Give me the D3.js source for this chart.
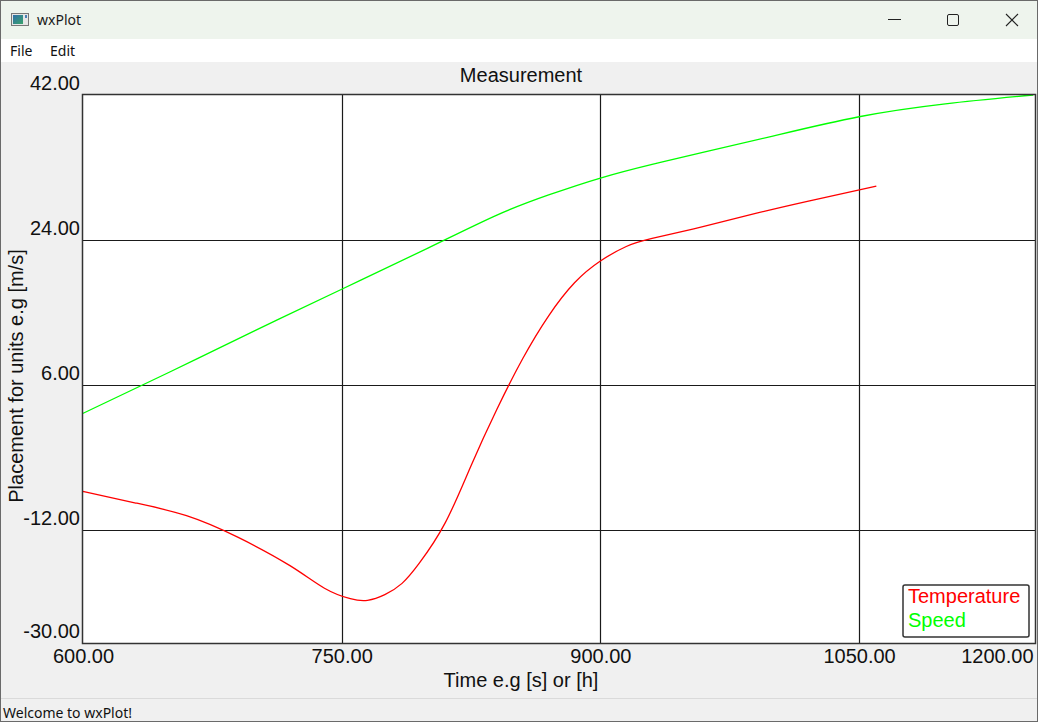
<!DOCTYPE html>
<html>
<head>
<meta charset="utf-8">
<script src="https://cdn.jsdelivr.net/npm/d3@7"></script>
<style>
  body { margin: 0; background: #f0f0f0; overflow: hidden; }
  svg { display: block; }
</style>
</head>
<body>
<svg id="win" width="1038" height="722"></svg>
<script>
// Temperature series (x in time units, y value)
const tempX = [600, 630, 660, 690, 720, 740, 755, 765, 775, 785, 795, 810, 825, 840, 855, 870, 885, 900, 915, 930, 960, 990, 1020, 1060];
const tempY = [-7.2, -8.6, -10.2, -12.9, -16.4, -19.2, -20.5, -20.7, -20.0, -18.6, -16.1, -11.1, -4.0, 3.0, 9.3, 14.6, 18.7, 21.4, 23.2, 24.2, 25.7, 27.3, 28.8, 30.7];

// Speed series
const speedX = [600, 650, 700, 750, 800, 840, 870, 900, 930, 960, 1000, 1050, 1100, 1151];
const speedY = [2.5, 7.6, 12.8, 17.9, 23.0, 27.1, 29.6, 31.7, 33.4, 34.9, 36.9, 39.3, 40.9, 42.0];

// axis ticks
const xTicks = [600, 750, 900, 1050, 1200];
const yTicks = [42, 24, 6, -12, -30];

const seriesNames = ["Temperature", "Speed"];
const seriesColors = ["#ff0000", "#00ff00"];

const svg = d3.select("#win");
const W = 1038, H = 722;
const uiFont = "'Noto Sans', 'DejaVu Sans', sans-serif";
const plotFont = "'Liberation Sans', Arial, sans-serif";
const fmt = d => d.toFixed(2);

// ---- window chrome ----
svg.append("rect").attr("width", W).attr("height", H).attr("fill", "#f0f0f0");
svg.append("rect").attr("width", W).attr("height", 39).attr("fill", "#eef4ed");
svg.append("rect").attr("y", 39).attr("width", W).attr("height", 23).attr("fill", "#ffffff");

// app icon
let grad = svg.append("defs").append("linearGradient").attr("id", "ic").attr("x1", 0).attr("y1", 0).attr("x2", 1).attr("y2", 1);
grad.append("stop").attr("offset", 0).attr("stop-color", "#2f6fa8");
grad.append("stop").attr("offset", 1).attr("stop-color", "#3aa36b");
svg.append("rect").attr("x", 11.5).attr("y", 13.5).attr("width", 17).attr("height", 12).attr("fill", "#e6e6e6").attr("stroke", "#777");
svg.append("rect").attr("x", 13).attr("y", 15).attr("width", 10).attr("height", 9).attr("fill", "url(#ic)");
svg.append("rect").attr("x", 25).attr("y", 15).attr("width", 2).attr("height", 3).attr("fill", "#4a7fb5");

svg.append("text").attr("x", 37).attr("y", 25).attr("font-family", uiFont).attr("font-size", 14)
  .attr("fill", "#1a1a1a").text("wxPlot");

// window buttons
svg.append("line").attr("x1", 888).attr("x2", 901).attr("y1", 19.5).attr("y2", 19.5).attr("stroke", "#222").attr("stroke-width", 1);
svg.append("rect").attr("x", 947.5).attr("y", 14.5).attr("width", 11).attr("height", 11).attr("rx", 1.5)
  .attr("fill", "none").attr("stroke", "#222").attr("stroke-width", 1);
svg.append("path").attr("d", "M1006,14L1018,26M1018,14L1006,26").attr("stroke", "#222").attr("stroke-width", 1.1);

// menu
svg.append("text").attr("x", 10).attr("y", 56).attr("font-family", uiFont).attr("font-size", 14).attr("fill", "#111").text("File");
svg.append("text").attr("x", 50).attr("y", 56).attr("font-family", uiFont).attr("font-size", 14).attr("fill", "#111").text("Edit");

// status bar
svg.append("line").attr("x1", 0).attr("x2", W).attr("y1", 698.5).attr("y2", 698.5).attr("stroke", "#dadada");
svg.append("text").attr("x", 3).attr("y", 718).attr("font-family", uiFont).attr("font-size", 14).attr("fill", "#111")
  .text("Welcome to wxPlot!");

// ---- plot ----
const pLeft = 83, pRight = 1035, pTop = 95, pBottom = 643;

const x = d3.scaleLinear().domain([600, 1152]).range([pLeft, pRight]).clamp(true);
const y = d3.scaleLinear().domain([-26, 42]).range([pBottom, pTop]).clamp(true);

svg.append("rect").attr("x", pLeft).attr("y", pTop).attr("width", pRight - pLeft).attr("height", pBottom - pTop).attr("fill", "#ffffff");

// grid
svg.append("g").selectAll("line").data(xTicks.filter(d => x(d) > pLeft && x(d) < pRight)).join("line")
  .attr("x1", d => Math.round(x(d)) + 0.5).attr("x2", d => Math.round(x(d)) + 0.5)
  .attr("y1", pTop).attr("y2", pBottom).attr("stroke", "#1a1a1a").attr("stroke-width", 1.2);
svg.append("g").selectAll("line").data(yTicks.filter(d => y(d) > pTop && y(d) < pBottom)).join("line")
  .attr("y1", d => Math.round(y(d)) + 0.5).attr("y2", d => Math.round(y(d)) + 0.5)
  .attr("x1", pLeft).attr("x2", pRight).attr("stroke", "#1a1a1a").attr("stroke-width", 1.2);

// series
const line = d3.line().x(d => x(d[0])).y(d => y(d[1])).curve(d3.curveNatural);
svg.append("path").datum(tempX.map((v, i) => [v, tempY[i]])).attr("d", line)
  .attr("fill", "none").attr("stroke", seriesColors[0]).attr("stroke-width", 1.3);
svg.append("path").datum(speedX.map((v, i) => [v, speedY[i]])).attr("d", line)
  .attr("fill", "none").attr("stroke", seriesColors[1]).attr("stroke-width", 1.3);

// frame
svg.append("rect").attr("x", pLeft - 0.5).attr("y", pTop - 0.5).attr("width", pRight - pLeft + 1).attr("height", pBottom - pTop + 1)
  .attr("fill", "none").attr("stroke", "#333").attr("stroke-width", 1.5);

// y axis labels
const gy = svg.append("g").attr("transform", `translate(${pLeft},0)`)
  .call(d3.axisLeft(y).tickValues(yTicks).tickFormat(fmt).tickSize(0).tickPadding(3));
gy.select(".domain").remove();
gy.attr("font-family", plotFont).attr("font-size", 20);
gy.selectAll("text").attr("dy", -6).attr("fill", "#111");

// x axis labels
const gx = svg.append("g").attr("transform", `translate(0,${pBottom})`)
  .call(d3.axisBottom(x).tickValues(xTicks).tickFormat(fmt).tickSize(0).tickPadding(6));
gx.select(".domain").remove();
gx.attr("font-family", plotFont).attr("font-size", 20);
gx.selectAll("text").attr("fill", "#111");
gx.selectAll("text").filter(d => d === xTicks[xTicks.length - 1]).attr("text-anchor", "end").attr("x", -2);

// titles
svg.append("text").attr("x", 521).attr("y", 82).attr("text-anchor", "middle")
  .attr("font-family", plotFont).attr("font-size", 20).attr("fill", "#111").text("Measurement");
svg.append("text").attr("x", 521).attr("y", 687).attr("text-anchor", "middle")
  .attr("font-family", plotFont).attr("font-size", 20).attr("fill", "#111").text("Time e.g [s] or [h]");
svg.append("text").attr("transform", "translate(23,376) rotate(-90)").attr("text-anchor", "middle")
  .attr("font-family", plotFont).attr("font-size", 20).attr("fill", "#111").text("Placement for units e.g [m/s]");

// legend
svg.append("rect").attr("x", 903).attr("y", 585).attr("width", 126).attr("height", 52).attr("rx", 2)
  .attr("fill", "#fff").attr("stroke", "#333").attr("stroke-width", 1.5);
svg.append("g").selectAll("text").data(seriesNames).join("text")
  .attr("x", 908).attr("y", (d, i) => 603 + i * 24)
  .attr("font-family", plotFont).attr("font-size", 20)
  .attr("fill", (d, i) => seriesColors[i]).text(d => d);

// window border
svg.append("rect").attr("x", 0.5).attr("y", 0.5).attr("width", W - 1).attr("height", H - 1)
  .attr("fill", "none").attr("stroke", "#6a6a6a");
</script>
</body>
</html>
